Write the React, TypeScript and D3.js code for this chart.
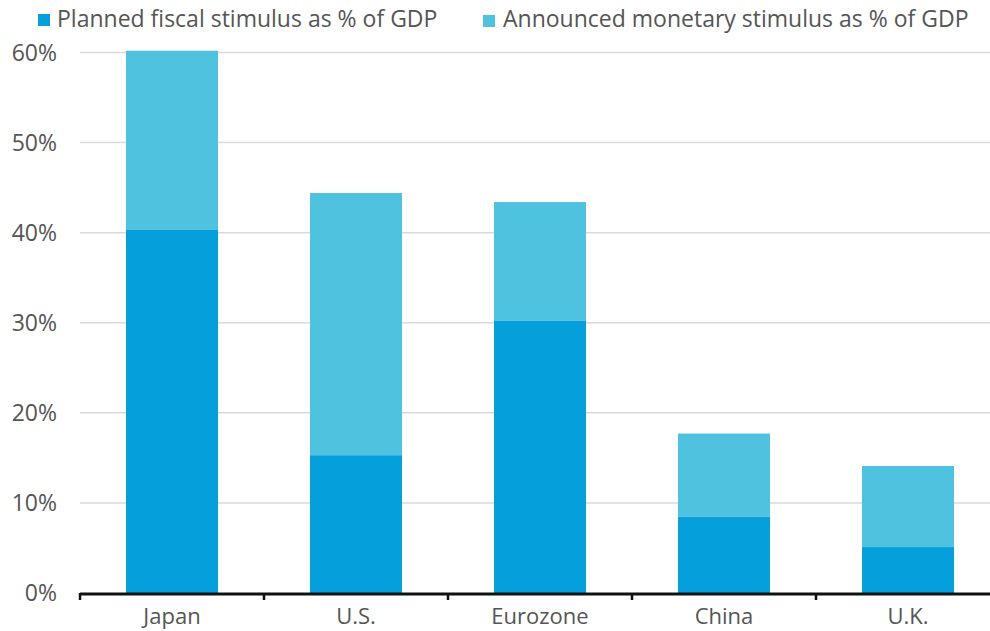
import React from "react";
import * as d3 from "d3";

const categories = ["Japan", "U.S.", "Eurozone", "China", "U.K."];
const fiscal = [40.3, 15.3, 30.2, 8.5, 5.1];
const monetary = [19.9, 29.1, 13.2, 9.2, 9.0];
const yTicks = [0, 10, 20, 30, 40, 50, 60];
const seriesNames = ["Planned fiscal stimulus as % of GDP", "Announced monetary stimulus as % of GDP"];
const colors = ["#059fdc", "#4fc2e0"];

const W = 990, H = 631;
const FONT = "'Open Sans', Roboto, sans-serif";

export default function App() {
  const x = d3.scaleBand<string>().domain(categories).range([80, 1000]).paddingInner(0.5).paddingOuter(0.25);
  const y = d3.scaleLinear().domain([0, 60]).range([593, 52.5]);
  const rows = categories.map((c, i) => ({ c, fiscal: fiscal[i], monetary: monetary[i] }));
  const stack = d3.stack<any>().keys(["fiscal", "monetary"])(rows);
  const step = x.step();
  const bounds = categories.map((c) => (x(c) as number) - (step - x.bandwidth()) / 2);

  return (
    <svg width={W} height={H} style={{ position: "absolute", left: 0, top: 0, background: "#fff" }} fontFamily={FONT}>
      {yTicks.filter((t) => t > 0).map((t) => (
        <line key={t} x1={80} x2={W} y1={y(t)} y2={y(t)} stroke="#dadada" strokeWidth={1.5} />
      ))}
      {yTicks.map((t) => (
        <text key={t} x={57} y={y(t)} dy="0.36em" textAnchor="end" fontSize={23} fill="#555">{t}%</text>
      ))}
      {stack.map((s, si) => (
        <g key={si} fill={colors[si]}>
          {s.map((d, i) => (
            <rect key={i} x={x(categories[i])} width={x.bandwidth()} y={y(d[1])} height={y(d[0]) - y(d[1])} />
          ))}
        </g>
      ))}
      <line x1={80} x2={W} y1={y(0) + 1} y2={y(0) + 1} stroke="#111" strokeWidth={3} />
      {bounds.map((b, i) => (
        <line key={i} x1={b} x2={b} y1={y(0)} y2={y(0) + 7} stroke="#111" strokeWidth={2.5} />
      ))}
      {categories.map((c) => (
        <text key={c} x={(x(c) as number) + x.bandwidth() / 2} y={624} textAnchor="middle" fontSize={22} fill="#555">{c}</text>
      ))}
      <rect x={38} y={14} width={12} height={12} fill={colors[0]} />
      <text x={57} y={27} fontSize={23} fill="#555">{seriesNames[0]}</text>
      <rect x={483} y={15} width={12} height={12} fill={colors[1]} />
      <text x={503} y={27} fontSize={23} fill="#555">{seriesNames[1]}</text>
    </svg>
  );
}
